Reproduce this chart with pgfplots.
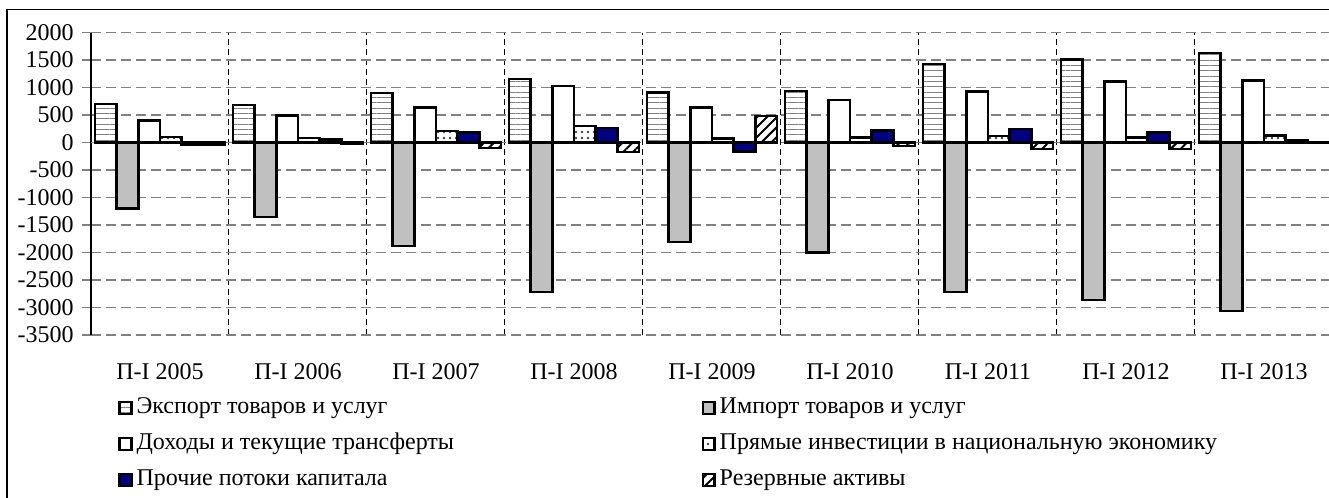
\documentclass[border=0pt,12pt]{standalone}
\usepackage{fontspec}
\setmainfont{Liberation Serif}
\usepackage{pgfplots}
\pgfplotsset{compat=1.18}
\usetikzlibrary{patterns,patterns.meta}
\definecolor{navyb}{HTML}{000080}
\definecolor{impgray}{HTML}{C0C0C0}
\pgfplotsset{sqleg/.style={legend image code/.code={\draw[##1, line width=1.2pt] (0.3pt,-3.1pt) rectangle (6.2pt,3.1pt);}}}
\begin{document}
\begin{tikzpicture}[x=1pt,y=1pt]
\useasboundingbox (0,0) rectangle (664.5,249);
\clip (0,0) rectangle (664.5,249);
\draw[line width=0.8pt] (3.35,-20) -- (3.35,244.25) -- (700,244.25);
\begin{axis}[
  at={(45.5pt,81.5pt)}, anchor=south west,
  width=621pt, height=151.25pt, scale only axis,
  xmin=-0.5, xmax=8.5, ymin=-3500, ymax=2000,
  ytick={-3500,-3000,...,2000},
  xtick={0,...,8},
  xticklabels={П-I 2005,П-I 2006,П-I 2007,П-I 2008,П-I 2009,П-I 2010,П-I 2011,П-I 2012,П-I 2013},
  minor xtick={0.5,1.5,...,8.5},
  minor tick length=0pt,
  axis lines*=left,
  x axis line style={draw=none},
  y axis line style={line width=0.6pt},
  xtick style={draw=none},
  ytick style={line width=0.6pt},
  tick align=outside,
  major tick length=4.5pt,
  xticklabel style={yshift=-5.5pt},
  /pgf/number format/1000 sep={},
  /pgf/number format/assume math mode=true,
  ymajorgrids, xminorgrids,
  major y grid style={draw=gray, line width=0.6pt, dash pattern=on 5pt off 2.5pt},
  minor x grid style={draw=black, line width=0.5pt, dash pattern=on 3pt off 2pt},
  extra y ticks={0}, extra y tick labels={},
  extra y tick style={ymajorgrids=true, major grid style={draw=black, solid, line width=0.8pt}, major tick length=0pt},
  ybar, bar width=0.157,
  legend columns=2,
  legend cell align=left,
  legend style={at={(0.0217,-0.1805)}, anchor=north west, draw=none, fill=none,
    inner sep=0pt, row sep=0pt,
    nodes={inner sep=0pt, text height=11.7pt, text depth=6.3pt},
    /tikz/every odd column/.append style={column sep=2pt}},
]
\addplot[sqleg, bar shift=-0.3925, draw=black, line width=1.2pt, preaction={fill=white}, pattern={Lines[angle=0,distance=2.67pt,line width=0.55pt]}, pattern color=gray]
  coordinates {(0,700) (1,680) (2,900) (3,1160) (4,910) (5,940) (6,1430) (7,1510) (8,1630)};
\addlegendentry{\makebox[282.5pt][l]{Экспорт товаров и услуг}}
\addplot[sqleg, bar shift=-0.2355, draw=black, line width=1.2pt, fill=impgray]
  coordinates {(0,-1200) (1,-1350) (2,-1880) (3,-2720) (4,-1810) (5,-2000) (6,-2720) (7,-2860) (8,-3060)};
\addlegendentry{Импорт товаров и услуг}
\addplot[sqleg, bar shift=-0.0785, draw=black, line width=1.2pt, fill=white]
  coordinates {(0,400) (1,490) (2,640) (3,1030) (4,640) (5,770) (6,930) (7,1110) (8,1130)};
\addlegendentry{\makebox[282.5pt][l]{Доходы и текущие трансферты}}
\addplot[sqleg, bar shift=0.0785, draw=black, line width=1.2pt, preaction={fill=white}, pattern={Dots[distance=3pt,radius=0.65pt]}, pattern color=darkgray]
  coordinates {(0,100) (1,85) (2,210) (3,300) (4,70) (5,90) (6,120) (7,90) (8,125)};
\addlegendentry{Прямые инвестиции в национальную экономику}
\addplot[sqleg, bar shift=0.2355, draw=black, line width=1.2pt, fill=navyb]
  coordinates {(0,-45) (1,55) (2,180) (3,260) (4,-160) (5,220) (6,250) (7,180) (8,50)};
\addlegendentry{\makebox[282.5pt][l]{Прочие потоки капитала}}
\addplot[sqleg, bar shift=0.3925, draw=black, line width=1.2pt, preaction={fill=white}, pattern={Lines[angle=45,distance=3.5pt,line width=1pt]}, pattern color=black]
  coordinates {(0,-35) (1,-20) (2,-100) (3,-175) (4,485) (5,-60) (6,-120) (7,-120) (8,-8)};
\addlegendentry{Резервные активы}
\end{axis}
\end{tikzpicture}
\end{document}
